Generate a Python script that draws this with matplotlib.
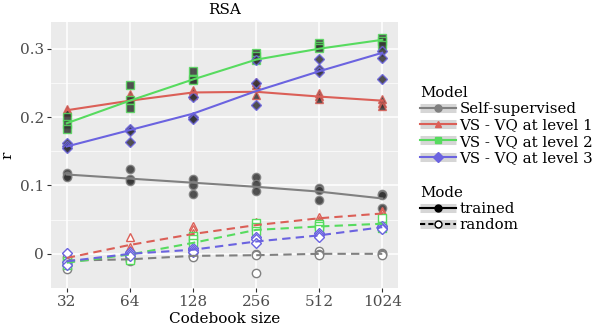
"""RSA score against codebook size for trained and random models."""

import matplotlib

matplotlib.use("Agg")

from matplotlib import pyplot as plt
from matplotlib.legend_handler import HandlerTuple
from matplotlib.lines import Line2D

CODEBOOK_SIZES = ["32", "64", "128", "256", "512", "1024"]
MODELS = ["Self-supervised", "VS - VQ at level 1", "VS - VQ at level 2", "VS - VQ at level 3"]

# three runs per codebook size, trained models
TRAINED_POINTS = {
    "Self-supervised": [
        [0.118, 0.114, 0.112], [0.124, 0.110, 0.106], [0.110, 0.100, 0.087],
        [0.113, 0.102, 0.092], [0.097, 0.093, 0.079], [0.087, 0.086, 0.067],
    ],
    "VS - VQ at level 1": [
        [0.212, 0.209, 0.207], [0.234, 0.230, 0.227], [0.239, 0.236, 0.233],
        [0.252, 0.247, 0.232], [0.235, 0.231, 0.226], [0.226, 0.221, 0.216],
    ],
    "VS - VQ at level 2": [
        [0.200, 0.190, 0.183], [0.247, 0.225, 0.214], [0.267, 0.256, 0.254],
        [0.293, 0.289, 0.283], [0.308, 0.304, 0.301], [0.315, 0.311, 0.306],
    ],
    "VS - VQ at level 3": [
        [0.162, 0.158, 0.155], [0.183, 0.180, 0.164], [0.229, 0.200, 0.197],
        [0.284, 0.250, 0.218], [0.285, 0.270, 0.266], [0.297, 0.286, 0.255],
    ],
}

# three runs per codebook size, randomly initialised models
RANDOM_POINTS = {
    "Self-supervised": [
        [-0.004, -0.017, -0.022], [-0.006, -0.008, -0.010], [0.001, -0.003, -0.005],
        [0.000, -0.001, -0.028], [0.004, 0.000, -0.001], [0.001, 0.000, -0.001],
    ],
    "VS - VQ at level 1": [
        [-0.004, -0.008, -0.012], [0.025, 0.010, 0.005], [0.041, 0.037, 0.030],
        [0.046, 0.040, 0.035], [0.054, 0.050, 0.047], [0.063, 0.059, 0.056],
    ],
    "VS - VQ at level 2": [
        [-0.010, -0.013, -0.016], [-0.001, -0.005, -0.009], [0.026, 0.021, 0.016],
        [0.045, 0.039, 0.033], [0.043, 0.040, 0.037], [0.053, 0.040, 0.038],
    ],
    "VS - VQ at level 3": [
        [0.001, -0.012, -0.016], [0.002, 0.000, -0.003], [0.009, 0.006, 0.003],
        [0.025, 0.021, 0.016], [0.030, 0.027, 0.025], [0.040, 0.038, 0.036],
    ],
}

# smoothed trend read at each codebook size
TRAINED_TREND = {
    "Self-supervised": [0.116, 0.110, 0.104, 0.098, 0.091, 0.081],
    "VS - VQ at level 1": [0.210, 0.224, 0.236, 0.237, 0.230, 0.224],
    "VS - VQ at level 2": [0.191, 0.224, 0.255, 0.284, 0.300, 0.313],
    "VS - VQ at level 3": [0.157, 0.181, 0.205, 0.238, 0.267, 0.294],
}
RANDOM_TREND = {
    "Self-supervised": [-0.010, -0.008, -0.003, -0.002, 0.000, 0.000],
    "VS - VQ at level 1": [-0.006, 0.013, 0.029, 0.042, 0.052, 0.059],
    "VS - VQ at level 2": [-0.013, -0.001, 0.016, 0.035, 0.040, 0.044],
    "VS - VQ at level 3": [-0.011, 0.000, 0.006, 0.018, 0.027, 0.039],
}

COLORS = {
    "Self-supervised": "#808080",
    "VS - VQ at level 1": "#db5f57",
    "VS - VQ at level 2": "#57db5f",
    "VS - VQ at level 3": "#6b63e0",
}
MARKERS = {
    "Self-supervised": "o",
    "VS - VQ at level 1": "^",
    "VS - VQ at level 2": "s",
    "VS - VQ at level 3": "D",
}
MARKER_SIZE = {"o": 6.0, "^": 6.0, "s": 5.5, "D": 5.0}

plt.rcParams["font.family"] = ["DejaVu Serif"]


def draw_points(ax, points, trained):
    for name in MODELS:
        marker = MARKERS[name]
        for i, runs in enumerate(points[name]):
            ax.plot(
                [i] * len(runs),
                runs,
                linestyle="none",
                marker=marker,
                markersize=MARKER_SIZE[marker],
                markerfacecolor="#333333" if trained else "white",
                markeredgecolor=COLORS[name],
                markeredgewidth=1.0,
                alpha=0.85 if trained else 1.0,
                zorder=3,
            )


def draw_trends(ax, trends, linestyle):
    xs = range(len(CODEBOOK_SIZES))
    for name in MODELS:
        ax.plot(
            xs,
            trends[name],
            color=COLORS[name],
            linewidth=1.5,
            linestyle=linestyle,
            zorder=4,
        )


def key(color, marker, linestyle="-", face=None):
    band = Line2D([], [], color="#d6d6d6", linewidth=6.5, solid_capstyle="butt")
    line = Line2D(
        [], [], color=color, linewidth=1.5, linestyle=linestyle,
        marker=marker, markersize=5,
        markerfacecolor=face if face else color,
        markeredgecolor=color,
    )
    return (band, line)


def add_legends(ax):
    model_handles = [key(COLORS[m], MARKERS[m]) for m in MODELS]
    mode_handles = [
        key("black", "o"),
        key("black", "o", linestyle=(0, (2.5, 1.5)), face="white"),
    ]
    common = dict(
        loc="upper left",
        frameon=False,
        fontsize=10.8,
        title_fontsize=10.8,
        handlelength=2.4,
        handletextpad=0.25,
        labelspacing=0.15,
        borderaxespad=0,
        alignment="left",
        handler_map={tuple: HandlerTuple(ndivide=1)},
    )
    leg1 = ax.legend(
        model_handles, MODELS, title="Model",
        bbox_to_anchor=(0.692, 0.757), bbox_transform=ax.figure.transFigure,
        **common,
    )
    ax.add_artist(leg1)
    ax.legend(
        mode_handles, ["trained", "random"], title="Mode",
        bbox_to_anchor=(0.692, 0.454), bbox_transform=ax.figure.transFigure,
        **common,
    )


def main():
    fig = plt.figure(figsize=(5.98, 3.29), dpi=100)
    ax = fig.add_axes([0.0853, 0.1246, 0.5803, 0.8084])
    ax.set_facecolor("#ebebeb")
    for spine in ax.spines.values():
        spine.set_visible(False)

    ax.set_xlim(-0.25, 5.25)
    ax.set_ylim(-0.046, 0.339)
    ax.set_xticks(range(len(CODEBOOK_SIZES)))
    ax.set_xticklabels(CODEBOOK_SIZES)
    ax.set_yticks([0.0, 0.1, 0.2, 0.3])
    ax.set_yticklabels(["0", "0.1", "0.2", "0.3"])
    ax.set_yticks([-0.05, 0.05, 0.15, 0.25], minor=True)
    ax.grid(which="major", color="white", linewidth=1.1)
    ax.grid(which="minor", axis="y", color="white", linewidth=0.5)
    ax.set_axisbelow(True)
    ax.tick_params(which="major", length=3, color="#333333", labelcolor="#4d4d4d",
                   labelsize=11, pad=2)
    ax.tick_params(which="minor", length=0)

    draw_points(ax, TRAINED_POINTS, trained=True)
    draw_points(ax, RANDOM_POINTS, trained=False)
    draw_trends(ax, TRAINED_TREND, "-")
    draw_trends(ax, RANDOM_TREND, (0, (4, 2.5)))

    ax.set_title("RSA", fontsize=11, pad=6)
    ax.set_xlabel("Codebook size", fontsize=11, labelpad=2)
    ax.set_ylabel("r", fontsize=11, labelpad=4)

    add_legends(ax)
    fig.savefig("out.png", dpi=100)
    plt.close(fig)


if __name__ == "__main__":
    main()
